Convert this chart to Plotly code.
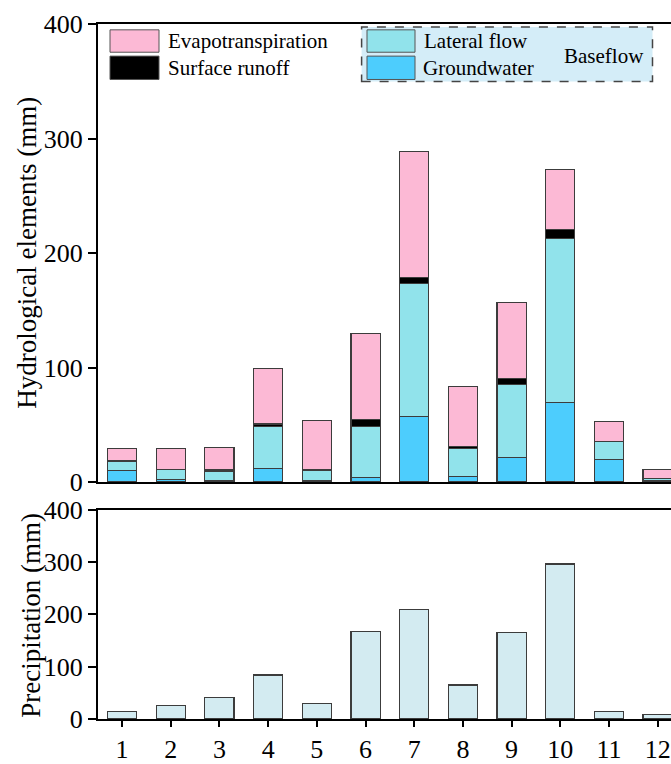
import plotly.graph_objects as go

months = [1, 2, 3, 4, 5, 6, 7, 8, 9, 10, 11, 12]
groundwater = [10, 2, 1, 12, 1, 4.3, 57.6, 4.8, 21.3, 69.7, 19.8, 1.4]
lateral_flow = [8, 8.8, 8, 36.5, 9.5, 44.2, 115.6, 24.4, 64, 143.2, 15.4, 1.4]
surface_runoff = [0.5, 0.5, 1.5, 2.3, 0.6, 6, 5.1, 1.7, 4.9, 7.4, 0.3, 0.3]
evapotranspiration = [10.5, 18.2, 20, 48.5, 43, 75, 110.3, 52.5, 66.3, 52.5, 17.2, 7.7]
precipitation = [14, 26, 41, 84, 30, 167, 209, 65, 165, 296, 14.5, 8]
y_ticks = [0, 100, 200, 300, 400]

C_ET = "#FCB9D5"
C_SR = "#000000"
C_LF = "#91E3EB"
C_GW = "#4DCDFD"
C_P = "#D3EBF1"
C_BOX = "#D4EDF8"
EDGE = "#3c3c3c"
FONT = "Liberation Serif"

W, H = 671, 764
ML, MR, MT, MB = 98, 0, 24, 26
PW, PH = W - ML - MR, H - MT - MB


def px(x):
    return (x - ML) / PW


def py(y):
    return (H - MB - y) / PH


fig = go.Figure()
bw = 0.6
for name, vals, col in [("Groundwater", groundwater, C_GW),
                        ("Lateral flow", lateral_flow, C_LF),
                        ("Surface runoff", surface_runoff, C_SR),
                        ("Evapotranspiration", evapotranspiration, C_ET)]:
    fig.add_trace(go.Bar(x=months, y=vals, name=name, width=bw,
                         marker=dict(color=col, line=dict(color=EDGE, width=1.2)),
                         xaxis="x", yaxis="y", showlegend=False))

fig.add_trace(go.Bar(x=months, y=precipitation, name="Precipitation", width=bw,
                     marker=dict(color=C_P, line=dict(color=EDGE, width=1.2)),
                     xaxis="x2", yaxis="y2", showlegend=False))

top_dom = [(737.7 - 494.3) / PH, 1.0]
bot_dom = [0.0, (737.7 - 522.5) / PH]
xr = [0.506, 12.274]

axis_common = dict(showline=True, linecolor="black", linewidth=2,
                   showgrid=False, zeroline=False,
                   tickfont=dict(family=FONT, size=26, color="black"))

fig.update_layout(
    width=W, height=H,
    margin=dict(l=ML, r=MR, t=MT, b=MB),
    paper_bgcolor="white", plot_bgcolor="white",
    barmode="stack", bargap=0.4,
    xaxis=dict(domain=[0, 1], range=xr, anchor="y", mirror=True,
               showticklabels=False, ticks="", **axis_common),
    yaxis=dict(domain=top_dom, range=[0, 400], tickvals=y_ticks,
               ticks="outside", ticklen=8, tickwidth=2, tickcolor="black",
               anchor="x", **axis_common),
    xaxis2=dict(domain=[0, 1], range=xr, anchor="y2", mirror=True,
                tickvals=months, ticks="outside", ticklen=6, tickwidth=2,
                tickcolor="black", **axis_common),
    yaxis2=dict(domain=bot_dom, range=[0, 400], tickvals=y_ticks,
                ticks="outside", ticklen=8, tickwidth=2, tickcolor="black",
                anchor="x2", **axis_common),
)

shapes = []
annotations = []

# Baseflow dashed box
shapes.append(dict(type="rect", xref="paper", yref="paper",
                   x0=px(361.6), x1=px(652.5), y0=py(83), y1=py(27),
                   fillcolor=C_BOX, line=dict(color="#444444", width=1.5, dash="dash"),
                   layer="above"))

legend_items = [
    (110, 159, 30, 53, C_ET, "Evapotranspiration", 166, 41),
    (110, 159, 57, 81, C_SR, "Surface runoff", 166, 69),
    (367, 415, 30, 53, C_LF, "Lateral flow", 422, 41),
    (367, 415, 57, 81, C_GW, "Groundwater", 421, 69),
]
for x0, x1, y0, y1, col, label, tx, ty in legend_items:
    shapes.append(dict(type="rect", xref="paper", yref="paper",
                       x0=px(x0), x1=px(x1), y0=py(y1), y1=py(y0),
                       fillcolor=col, line=dict(color="#555555", width=1),
                       layer="above"))
    annotations.append(dict(xref="paper", yref="paper", x=px(tx), y=py(ty),
                            text=label, showarrow=False, xanchor="left",
                            yanchor="middle",
                            font=dict(family=FONT, size=21, color="black")))

annotations.append(dict(xref="paper", yref="paper", x=px(604), y=py(57),
                        text="Baseflow", showarrow=False, xanchor="center",
                        yanchor="middle",
                        font=dict(family=FONT, size=21, color="black")))

# Axis titles
annotations.append(dict(xref="paper", yref="paper", x=px(27), y=py(259),
                        text="Hydrological elements (mm)", showarrow=False,
                        textangle=-90, xanchor="center", yanchor="middle",
                        font=dict(family=FONT, size=27, color="black")))
annotations.append(dict(xref="paper", yref="paper", x=px(31), y=py(632),
                        text="Precipitation (mm)", showarrow=False,
                        textangle=-90, xanchor="center", yanchor="middle",
                        font=dict(family=FONT, size=27, color="black")))

fig.update_layout(shapes=shapes, annotations=annotations)

fig.write_html("out.html")
